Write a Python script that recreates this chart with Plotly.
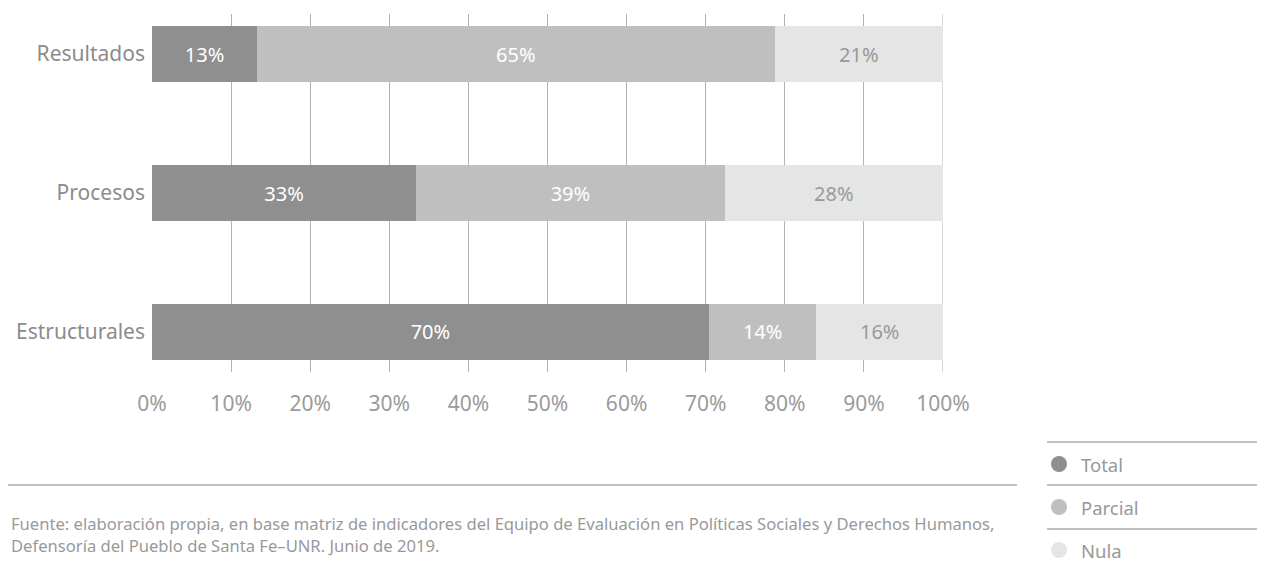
import plotly.graph_objects as go

# data
categories = ["Estructurales", "Procesos", "Resultados"]
total = [70.4, 33.4, 13.3]
parcial = [13.6, 39.0, 65.4]
nula = [16.0, 27.6, 21.3]
series_names = ["Total", "Parcial", "Nula"]
series_colors = ["#8f8f8f", "#bfbfbf", "#e5e5e5"]
label_colors = ["white", "white", "#999999"]
x_ticks = list(range(0, 101, 10))
source_text = ("Fuente: elaboración propia, en base matriz de indicadores del Equipo de "
               "Evaluación en Políticas Sociales y Derechos Humanos,<br>"
               "Defensoría del Pueblo de Santa Fe–UNR. Junio de 2019.")

FONT = "Noto Sans"
OFF = 8  # page body margin
W, H = 1265 - OFF, 571 - OFF
L, R, T, B = 152 - OFF, 943 - OFF, 14 - OFF, 372 - OFF  # plot area in px


def px_x(p):
    return (p - OFF - L) / (R - L)


def px_y(p):
    return (B - (p - OFF)) / (B - T)


fig = go.Figure()
for name, vals, col, tcol in zip(series_names, [total, parcial, nula],
                                 series_colors, label_colors):
    fig.add_trace(go.Bar(
        y=categories, x=vals, name=name, orientation="h",
        marker=dict(color=col, line=dict(width=0)),
        text=vals, texttemplate="%{x:.0f}%", textposition="inside",
        insidetextanchor="middle",
        insidetextfont=dict(family=FONT, size=20, color=tcol),
        hoverinfo="skip", width=0.4, showlegend=False,
    ))

fig.update_layout(
    barmode="stack",
    width=W, height=H,
    margin=dict(l=L, r=W - R, t=T, b=H - B, pad=0),
    paper_bgcolor="white", plot_bgcolor="white",
    font=dict(family=FONT, color="#999999"),
    xaxis=dict(range=[0, 100], tickvals=x_ticks,
               ticktext=[f"{v}%" for v in x_ticks],
               showgrid=True, gridcolor="#b3b3b3", gridwidth=1,
               zeroline=False, showline=False, ticks="",
               ticklabelstandoff=17,
               tickfont=dict(family=FONT, size=21, color="#9a9a9a")),
    yaxis=dict(range=[-0.288, 2.288], showgrid=False, zeroline=False,
               ticks="", ticklabelstandoff=6,
               tickfont=dict(family=FONT, size=21, color="#8c8c8c")),
)

shapes = []
annotations = []

# right-hand gridline at 100% (plotly drops it at the range edge)
shapes.append(dict(type="line", xref="x", yref="paper", layer="below",
                   x0=x_ticks[-1], x1=x_ticks[-1], y0=0, y1=1,
                   line=dict(color="#b3b3b3", width=1)))

# footer rule + source note
shapes.append(dict(type="line", xref="paper", yref="paper",
                   x0=px_x(OFF), x1=px_x(1017), y0=px_y(485), y1=px_y(485),
                   line=dict(color="#aaaaaa", width=1.5)))
annotations.append(dict(xref="paper", yref="paper", x=px_x(9), y=px_y(534),
                        xanchor="left", yanchor="middle", align="left",
                        showarrow=False, text=source_text,
                        font=dict(family=FONT, size=16.6, color="#999999")))

# custom legend on the right
legend_rules = [442, 485, 529]
legend_rows = [464, 507, 550]
for rule in legend_rules:
    shapes.append(dict(type="line", xref="paper", yref="paper",
                       x0=px_x(1047), x1=px_x(1265), y0=px_y(rule), y1=px_y(rule),
                       line=dict(color="#aaaaaa", width=1.5)))
for name, col, row in zip(series_names, series_colors, legend_rows):
    shapes.append(dict(type="circle", xref="paper", yref="paper",
                       xsizemode="pixel", ysizemode="pixel",
                       xanchor=px_x(1059), yanchor=px_y(row),
                       x0=-8, x1=8, y0=-8, y1=8,
                       fillcolor=col, line=dict(width=0)))
    annotations.append(dict(xref="paper", yref="paper", x=px_x(1079), y=px_y(row),
                            xanchor="left", yanchor="middle", showarrow=False,
                            text=name,
                            font=dict(family=FONT, size=18.5, color="#999999")))

fig.update_layout(shapes=shapes, annotations=annotations)

fig.write_html("out.html")
